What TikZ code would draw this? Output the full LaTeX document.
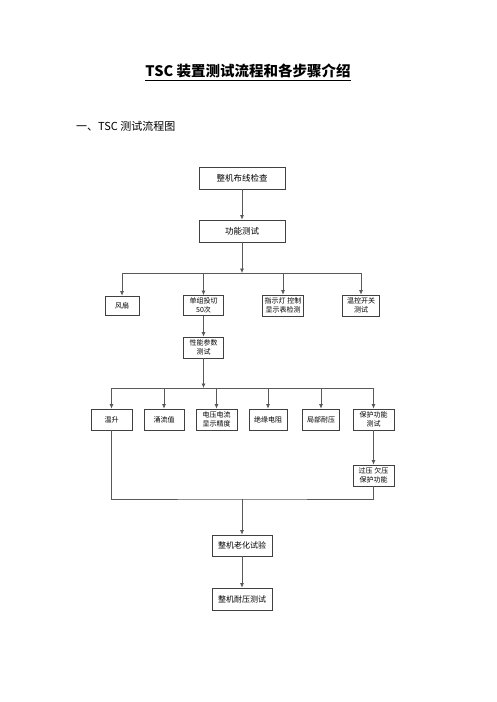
\documentclass[tikz,border=0pt]{standalone}
\usepackage{fontspec}
\setmainfont{Liberation Serif}
\newfontfamily\cjk{Noto Sans CJK SC}
\usetikzlibrary{arrows.meta}
\begin{document}
\begin{tikzpicture}[x=1pt,y=-1pt,
    box/.style={draw=black!75,line width=0.7pt,fill=white,inner sep=0pt,align=center,
        font=\cjk\fontsize{7}{9.5}\selectfont},
    bigbox/.style={box,font=\cjk\fontsize{8.5}{10}\selectfont},
    link/.style={draw=black!65,line width=0.7pt},
    arr/.style={link,-{Latex[length=4.5pt,width=4pt]}}]
        \useasboundingbox[fill=white] (0,0) rectangle (496,702);
        %% Headings
        \node[font=\cjk\bfseries\fontsize{14.5}{16}\selectfont,inner sep=0pt] (title) at (248,71) {TSC 装置测试流程和各步骤介绍};
        \draw[line width=0.8pt] ([yshift=-2pt]title.south west) -- ([yshift=-2pt]title.south east);
        \node[font=\cjk\fontsize{11}{13}\selectfont,anchor=west,inner sep=0pt] (sub) at (76,126) {一、TSC 测试流程图};
        %% Top chain
        \node[bigbox,minimum width=86pt,minimum height=22pt] (check) at (242,178) {整机布线检查};
        \node[bigbox,minimum width=86pt,minimum height=22pt] (func) at (242,231) {功能测试};
        %% First row
        \node[box,minimum width=34pt,minimum height=19pt] (fan) at (122,305.5) {风扇};
        \node[box,minimum width=40pt,minimum height=20pt] (switch) at (203.5,305.5) {单组投切\\50次};
        \node[box,minimum width=41pt,minimum height=21pt] (lamp) at (283,305.5) {指示灯 控制\\显示表检测};
        \node[box,minimum width=37pt,minimum height=21pt] (temp) at (361,305.5) {温控开关\\测试};
        \node[box,minimum width=40pt,minimum height=21pt] (perf) at (203.5,347.5) {性能参数\\测试};
        %% Second row
        \node[box,minimum width=41pt,minimum height=21pt] (rise) at (111.5,419.5) {温升};
        \node[box,minimum width=40pt,minimum height=21pt] (inrush) at (164,419.5) {涌流值};
        \node[box,minimum width=41pt,minimum height=21pt] (meter) at (216.5,419.5) {电压电流\\显示精度};
        \node[box,minimum width=38pt,minimum height=21pt] (insul) at (268,419.5) {绝缘电阻};
        \node[box,minimum width=37pt,minimum height=21pt] (partial) at (321,419.5) {局部耐压};
        \node[box,minimum width=41pt,minimum height=21pt] (protect) at (373.5,419.5) {保护功能\\测试};
        \node[box,minimum width=41pt,minimum height=21pt] (over) at (373.5,475.5) {过压 欠压\\保护功能};
        %% Bottom chain
        \node[bigbox,font=\cjk\fontsize{8}{10}\selectfont,minimum width=60pt,minimum height=21pt] (aging) at (242,545.5) {整机老化试验};
        \node[bigbox,font=\cjk\fontsize{8}{10}\selectfont,minimum width=60pt,minimum height=22pt] (hipot) at (242,599) {整机耐压测试};
        %% Bars
        \coordinate (busa) at (242,273);
        \coordinate (busb) at (203.5,388);
        \coordinate (busc) at (242,499);
        %% Connectors
        \draw[arr] (check) -- (func);
        \draw[arr] (func) -- (busa);
        \draw[link] (busa -| fan) -- (busa -| temp);
        \foreach \n in {fan,switch,lamp,temp}
            \draw[arr] (busa -| \n) -- (\n.north);
        \draw[arr] (switch) -- (perf);
        \draw[arr] (perf) -- (busb);
        \draw[link] (busb -| rise) -- (busb -| protect);
        \foreach \n in {rise,inrush,meter,insul,partial,protect}
            \draw[arr] (busb -| \n) -- (\n.north);
        \draw[arr] (protect) -- (over);
        \draw[link] (rise.south) |- (busc) -| (over.south);
        \draw[arr] (busc) -- (aging);
        \draw[arr] (aging) -- (hipot);
\end{tikzpicture}
\end{document}
